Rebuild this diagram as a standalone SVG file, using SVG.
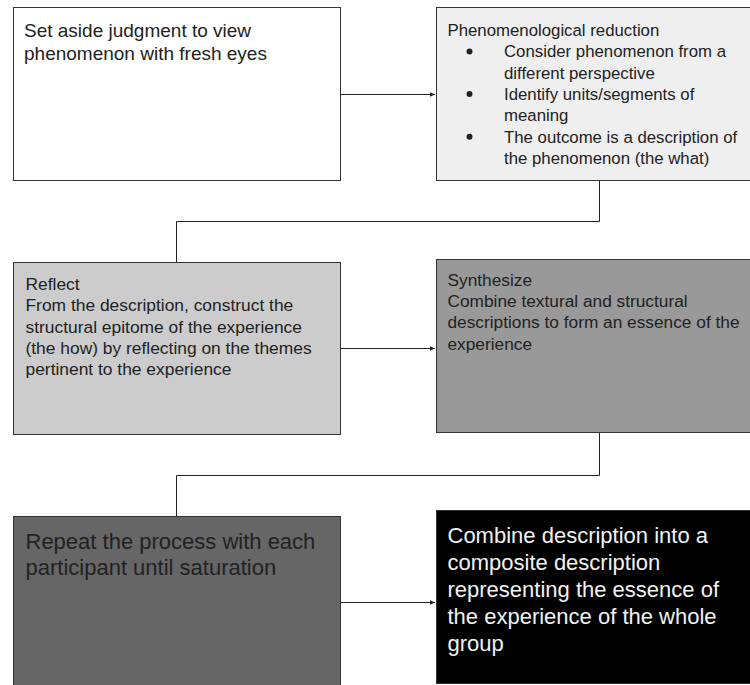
<svg xmlns="http://www.w3.org/2000/svg" width="750" height="685" viewBox="0 0 750 685">
<defs>
<style>
.box{stroke:#333;stroke-width:1}
.t{font-family:"Liberation Sans",Arial,sans-serif;fill:#222}
.conn{fill:none;stroke:#222;stroke-width:1}
</style>
<marker id="ah" markerUnits="userSpaceOnUse" markerWidth="6" markerHeight="6" refX="5" refY="3" orient="auto">
<path d="M0,0.8 L5,3 L0,5.2 Z" fill="#222"/>
</marker>
</defs>
<rect width="750" height="685" fill="#fff"/>
<g id="connectors">
<line class="conn" x1="340" y1="94.5" x2="435" y2="94.5" marker-end="url(#ah)"/>
<polyline class="conn" points="599.5,180.5 599.5,221.5 176.5,221.5 176.5,262.5"/>
<line class="conn" x1="340" y1="348.5" x2="435" y2="348.5" marker-end="url(#ah)"/>
<polyline class="conn" points="599.5,432.5 599.5,475.5 176.5,475.5 176.5,516.5"/>
<line class="conn" x1="340" y1="602.5" x2="435" y2="602.5" marker-end="url(#ah)"/>
</g>
<g id="n1">
<rect class="box" x="13.5" y="7.5" width="327" height="173" fill="#ffffff"/>
<text class="t" font-size="19" x="24" y="37">Set aside judgment to view</text>
<text class="t" font-size="19" x="24" y="60">phenomenon with fresh eyes</text>
</g>
<g id="n2">
<rect class="box" x="436.5" y="7.5" width="327" height="173" fill="#efefef"/>
<text class="t" font-size="16.8" x="447.5" y="36">Phenomenological reduction</text>
<circle cx="469.5" cy="51.5" r="3" fill="#222"/>
<text class="t" font-size="16.8" x="504" y="57.3">Consider phenomenon from a</text>
<text class="t" font-size="16.8" x="504" y="78.6">different perspective</text>
<circle cx="469.5" cy="94.1" r="3" fill="#222"/>
<text class="t" font-size="16.8" x="504" y="99.9">Identify units/segments of</text>
<text class="t" font-size="16.8" x="504" y="121.2">meaning</text>
<circle cx="469.5" cy="136.7" r="3" fill="#222"/>
<text class="t" font-size="16.8" x="504" y="142.5">The outcome is a description of</text>
<text class="t" font-size="16.8" x="504" y="163.8">the phenomenon (the what)</text>
</g>
<g id="n3">
<rect class="box" x="13.5" y="262.5" width="327" height="172" fill="#cccccc"/>
<text class="t" font-size="17.4" x="25.5" y="290">Reflect</text>
<text class="t" font-size="17.4" x="25.5" y="311.3">From the description, construct the</text>
<text class="t" font-size="17.4" x="25.5" y="332.6">structural epitome of the experience</text>
<text class="t" font-size="17.4" x="25.5" y="353.9">(the how) by reflecting on the themes</text>
<text class="t" font-size="17.4" x="25.5" y="375.2">pertinent to the experience</text>
</g>
<g id="n4">
<rect class="box" x="436.5" y="259.5" width="327" height="173" fill="#999999"/>
<text class="t" font-size="17.3" x="447.5" y="286">Synthesize</text>
<text class="t" font-size="17.3" x="447.5" y="307.2">Combine textural and structural</text>
<text class="t" font-size="17.3" x="447.5" y="328.4">descriptions to form an essence of the</text>
<text class="t" font-size="17.3" x="447.5" y="349.6">experience</text>
</g>
<g id="n5">
<rect class="box" x="13.5" y="516.5" width="327" height="180" fill="#666666"/>
<text class="t" font-size="22" x="25.5" y="548.5" fill="#1a1a1a">Repeat the process with each</text>
<text class="t" font-size="22" x="25.5" y="575.2" fill="#1a1a1a">participant until saturation</text>
</g>
<g id="n6">
<rect class="box" x="436.5" y="510.5" width="327" height="173" fill="#000000"/>
<text class="t" font-size="22" x="447.5" y="542.5" style="fill:#f2f2f2">Combine description into a</text>
<text class="t" font-size="22" x="447.5" y="569.5" style="fill:#f2f2f2">composite description</text>
<text class="t" font-size="22" x="447.5" y="596.5" style="fill:#f2f2f2">representing the essence of</text>
<text class="t" font-size="22" x="447.5" y="623.5" style="fill:#f2f2f2">the experience of the whole</text>
<text class="t" font-size="22" x="447.5" y="650.5" style="fill:#f2f2f2">group</text>
</g>
</svg>
